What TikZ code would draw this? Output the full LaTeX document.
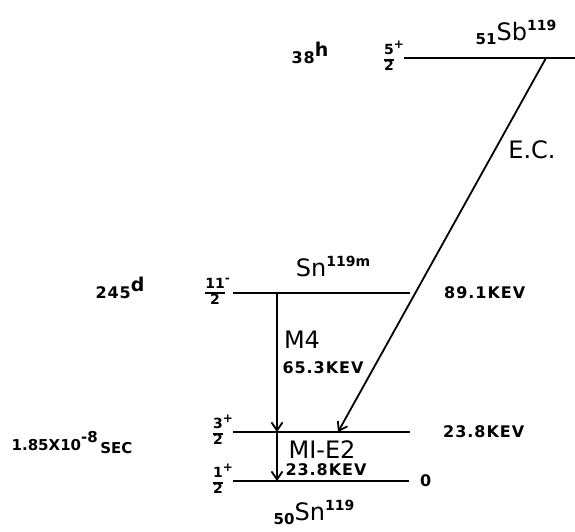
\documentclass[tikz,border=0pt]{standalone}
\usepackage{fontspec}
\setmainfont{DejaVu Sans}
\usetikzlibrary{arrows.meta,positioning}
\tikzset{
  level/.style={line width=2.6pt},
  trans/.style={-{Straight Barb[length=8pt,width=11pt,line width=1.8pt]}, line width=1.8pt},
  big/.style={font=\fontsize{24}{26}\selectfont, inner sep=0pt},
  small/.style={font=\fontsize{16}{18}\selectfont\bfseries\addfontfeature{LetterSpace=6}, inner sep=0pt},
  spin/.style={font=\fontsize{14}{15}\selectfont\bfseries, inner sep=0pt},
}
\setlength\arrayrulewidth{2pt}
\newcommand\jfrac[3]{\renewcommand\arraystretch{0.85}%
  \begin{tabular}{@{}c@{}}#1\rlap{\raisebox{6pt}{\fontsize{12}{12}\selectfont #3}}\\\hline #2\end{tabular}}
\newcommand\upidx[1]{\raisebox{10pt}{\fontsize{14}{14}\selectfont\bfseries #1}}
\newcommand\loidx[1]{\raisebox{-4pt}{\fontsize{15}{15}\selectfont\bfseries #1}}

\begin{document}
\begin{tikzpicture}[x=1pt,y=1pt]
  \useasboundingbox (0,0) rectangle (575,531);
  % levels
  \coordinate (sbL) at (404,473); \coordinate (sbR) at (575,473);
  \coordinate (mL) at (233,238);  \coordinate (mR) at (410,238);
  \coordinate (eL) at (233,99);   \coordinate (eR) at (410,99);
  \coordinate (gL) at (233,50);   \coordinate (gR) at (409,50);
  \draw[level] (sbL) -- (sbR);
  \draw[level] (mL) -- (mR);
  \draw[level] (eL) -- (eR);
  \draw[level] (gL) -- (gR);
  % spins
  \node[spin, left=10pt of sbL] (sbJ) {\jfrac{5}{2}{+}};
  \node[spin, left=8pt of mL] (mJ) {\jfrac{11}{2}{-}};
  \node[spin, left=10pt of eL] (eJ) {\jfrac{3}{2}{+}};
  \node[spin, left=10pt of gL] (gJ) {\jfrac{1}{2}{+}};
  % transitions
  \coordinate (ecA) at (546,473); \coordinate (ecB) at (338,99);
  \coordinate (mA) at (277,238);  \coordinate (mB) at (277,99); \coordinate (mC) at (277,50);
  \draw[trans] (ecA) -- (ecB);
  \draw[trans] (mA) -- (mB);
  \draw[trans] (mB) -- (mC);
  % nuclides
  \node[big] (sb) at (516,499) {\loidx{51}Sb\upidx{119}};
  \node[big] (snm) at (333,265) {Sn\upidx{119m}};
  \node[big] (sn) at (314,19) {\loidx{50}Sn\upidx{119}};
  % half-lives
  \node[small] (sbT) at (310,478) {38\raisebox{7pt}{\fontsize{19}{19}\selectfont h}};
  \node[small] (mT) at (120,243) {245\raisebox{7pt}{\fontsize{19}{19}\selectfont d}};
  \node[small, font=\fontsize{15}{17}\selectfont\bfseries] (eT) at (72,88)
    {1.85X10\raisebox{8pt}{-8}\,\raisebox{-3pt}{SEC}};
  % energies
  \node[small, right=34pt of mR] (mE) {89.1KEV};
  \node[small, right=33pt of eR] (eE) {23.8KEV};
  \node[small, right=11pt of gR] (gE) {0};
  % transition labels
  \node[big] (ec) at (532,381) {E.C.};
  \node[big] (m4) at (302,191) {M4};
  \node[small] (m4E) at (323,163) {65.3KEV};
  \node[big] (m1) at (322,81) {MI-E2};
  \node[small] (m1E) at (326,61) {23.8KEV};
\end{tikzpicture}
\end{document}
